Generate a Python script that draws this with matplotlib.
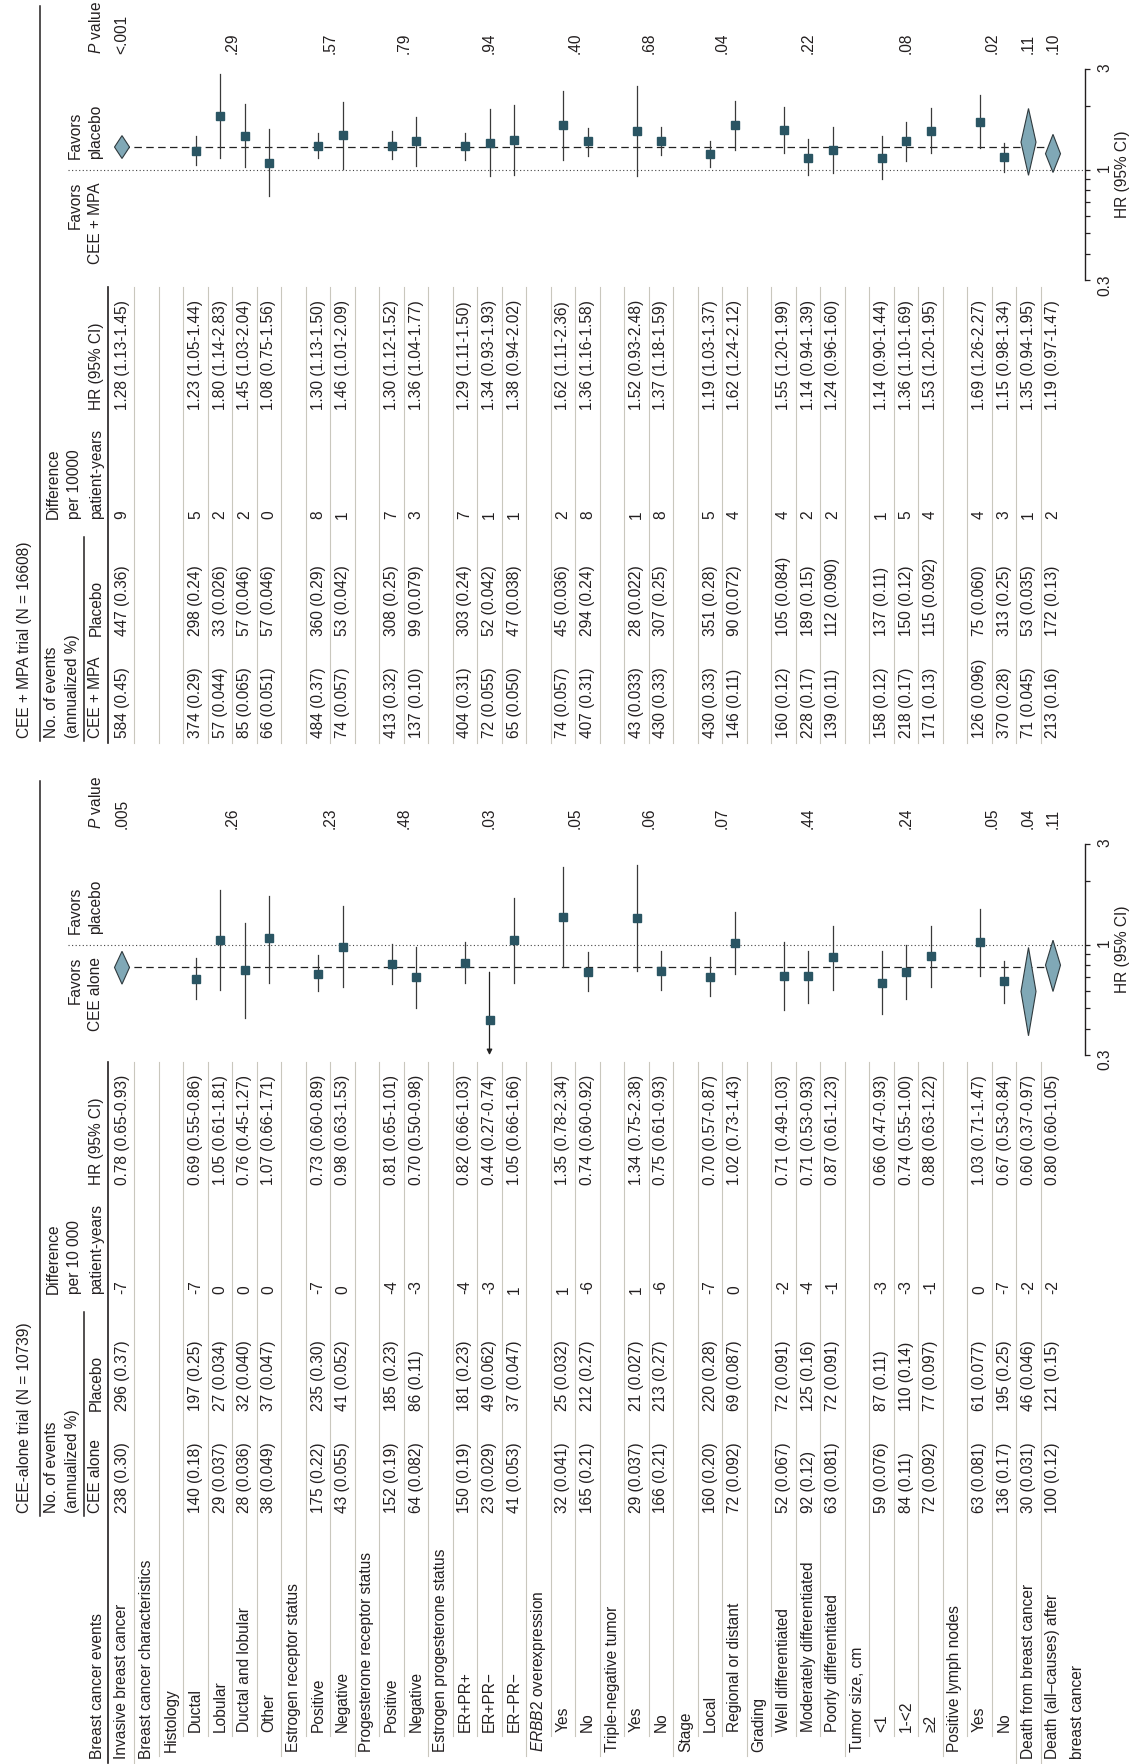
import matplotlib
matplotlib.use('Agg')
import matplotlib.pyplot as plt
from matplotlib import font_manager
from matplotlib.ticker import FixedLocator, NullFormatter

# ---------------- data ----------------
row_labels = [
	"Invasive breast cancer", "Breast cancer characteristics", "Histology",
	"Ductal", "Lobular", "Ductal and lobular", "Other",
	"Estrogen receptor status", "Positive", "Negative",
	"Progesterone receptor status", "Positive", "Negative",
	"Estrogen progesterone status", "ER+PR+", "ER+PR\u2212", "ER\u2212PR\u2212",
	"$\\mathit{ERBB2}$ overexpression", "Yes", "No",
	"Triple-negative tumor", "Yes", "No",
	"Stage", "Local", "Regional or distant",
	"Grading", "Well differentiated", "Moderately differentiated", "Poorly differentiated",
	"Tumor size, cm", "<1", "1-<2", "\u22652",
	"Positive lymph nodes", "Yes", "No",
	"Death from breast cancer", "Death (all\u2013causes) after\nbreast cancer",
]
row_levels = [0, 0, 1, 2, 2, 2, 2, 1, 2, 2, 1, 2, 2, 1, 2, 2, 2, 1, 2, 2,
			  1, 2, 2, 1, 2, 2, 1, 2, 2, 2, 1, 2, 2, 2, 1, 2, 2, 0, 0]

data_rows = [0, 3, 4, 5, 6, 8, 9, 11, 12, 14, 15, 16, 18, 19, 21, 22, 24, 25,
			 27, 28, 29, 31, 32, 33, 35, 36, 37, 38]
diamond_rows = [0, 37, 38]
p_groups = [(0, 0), (3, 6), (8, 9), (11, 12), (14, 16), (18, 19), (21, 22),
			(24, 25), (27, 29), (31, 33), (35, 36), (37, 37), (38, 38)]

# CEE-alone trial
cee_events = ["238 (0.30)", "140 (0.18)", "29 (0.037)", "28 (0.036)", "38 (0.049)",
			  "175 (0.22)", "43 (0.055)", "152 (0.19)", "64 (0.082)", "150 (0.19)",
			  "23 (0.029)", "41 (0.053)", "32 (0.041)", "165 (0.21)", "29 (0.037)",
			  "166 (0.21)", "160 (0.20)", "72 (0.092)", "52 (0.067)", "92 (0.12)",
			  "63 (0.081)", "59 (0.076)", "84 (0.11)", "72 (0.092)", "63 (0.081)",
			  "136 (0.17)", "30 (0.031)", "100 (0.12)"]
cee_placebo = ["296 (0.37)", "197 (0.25)", "27 (0.034)", "32 (0.040)", "37 (0.047)",
			   "235 (0.30)", "41 (0.052)", "185 (0.23)", "86 (0.11)", "181 (0.23)",
			   "49 (0.062)", "37 (0.047)", "25 (0.032)", "212 (0.27)", "21 (0.027)",
			   "213 (0.27)", "220 (0.28)", "69 (0.087)", "72 (0.091)", "125 (0.16)",
			   "72 (0.091)", "87 (0.11)", "110 (0.14)", "77 (0.097)", "61 (0.077)",
			   "195 (0.25)", "46 (0.046)", "121 (0.15)"]
cee_diff = [-7, -7, 0, 0, 0, -7, 0, -4, -3, -4, -3, 1, 1, -6, 1, -6, -7, 0,
			-2, -4, -1, -3, -3, -1, 0, -7, -2, -2]
cee_hr = [0.78, 0.69, 1.05, 0.76, 1.07, 0.73, 0.98, 0.81, 0.70, 0.82, 0.44, 1.05,
		  1.35, 0.74, 1.34, 0.75, 0.70, 1.02, 0.71, 0.71, 0.87, 0.66, 0.74, 0.88,
		  1.03, 0.67, 0.60, 0.80]
cee_lo = [0.65, 0.55, 0.61, 0.45, 0.66, 0.60, 0.63, 0.65, 0.50, 0.66, 0.27, 0.66,
		  0.78, 0.60, 0.75, 0.61, 0.57, 0.73, 0.49, 0.53, 0.61, 0.47, 0.55, 0.63,
		  0.71, 0.53, 0.37, 0.60]
cee_hi = [0.93, 0.86, 1.81, 1.27, 1.71, 0.89, 1.53, 1.01, 0.98, 1.03, 0.74, 1.66,
		  2.34, 0.92, 2.38, 0.93, 0.87, 1.43, 1.03, 0.93, 1.23, 0.93, 1.00, 1.22,
		  1.47, 0.84, 0.97, 1.05]
cee_p = [".005", ".26", ".23", ".48", ".03", ".05", ".06", ".07", ".44", ".24",
		 ".05", ".04", ".11"]

# CEE + MPA trial
mpa_events = ["584 (0.45)", "374 (0.29)", "57 (0.044)", "85 (0.065)", "66 (0.051)",
			  "484 (0.37)", "74 (0.057)", "413 (0.32)", "137 (0.10)", "404 (0.31)",
			  "72 (0.055)", "65 (0.050)", "74 (0.057)", "407 (0.31)", "43 (0.033)",
			  "430 (0.33)", "430 (0.33)", "146 (0.11)", "160 (0.12)", "228 (0.17)",
			  "139 (0.11)", "158 (0.12)", "218 (0.17)", "171 (0.13)", "126 (0.096)",
			  "370 (0.28)", "71 (0.045)", "213 (0.16)"]
mpa_placebo = ["447 (0.36)", "298 (0.24)", "33 (0.026)", "57 (0.046)", "57 (0.046)",
			   "360 (0.29)", "53 (0.042)", "308 (0.25)", "99 (0.079)", "303 (0.24)",
			   "52 (0.042)", "47 (0.038)", "45 (0.036)", "294 (0.24)", "28 (0.022)",
			   "307 (0.25)", "351 (0.28)", "90 (0.072)", "105 (0.084)", "189 (0.15)",
			   "112 (0.090)", "137 (0.11)", "150 (0.12)", "115 (0.092)", "75 (0.060)",
			   "313 (0.25)", "53 (0.035)", "172 (0.13)"]
mpa_diff = [9, 5, 2, 2, 0, 8, 1, 7, 3, 7, 1, 1, 2, 8, 1, 8, 5, 4, 4, 2, 2, 1, 5, 4,
			4, 3, 1, 2]
mpa_hr = [1.28, 1.23, 1.80, 1.45, 1.08, 1.30, 1.46, 1.30, 1.36, 1.29, 1.34, 1.38,
		  1.62, 1.36, 1.52, 1.37, 1.19, 1.62, 1.55, 1.14, 1.24, 1.14, 1.36, 1.53,
		  1.69, 1.15, 1.35, 1.19]
mpa_lo = [1.13, 1.05, 1.14, 1.03, 0.75, 1.13, 1.01, 1.12, 1.04, 1.11, 0.93, 0.94,
		  1.11, 1.16, 0.93, 1.18, 1.03, 1.24, 1.20, 0.94, 0.96, 0.90, 1.10, 1.20,
		  1.26, 0.98, 0.94, 0.97]
mpa_hi = [1.45, 1.44, 2.83, 2.04, 1.56, 1.50, 2.09, 1.52, 1.77, 1.50, 1.93, 2.02,
		  2.36, 1.58, 2.48, 1.59, 1.37, 2.12, 1.99, 1.39, 1.60, 1.44, 1.69, 1.95,
		  2.27, 1.34, 1.95, 1.47]
mpa_p = ["<.001", ".29", ".57", ".79", ".94", ".40", ".68", ".04", ".22", ".08",
		 ".02", ".11", ".10"]

# ---------------- style / layout ----------------
W, H = 1140, 1764
ROW0, PITCH = 122, 24.5
FS = 11.2
TXT = '#231f20'
SQ = '#2a5563'
DIA = '#80a8b6'
GRID = '#c9c7bd'

names = {f.name for f in font_manager.fontManager.ttflist}
FONT = 'Liberation Sans' if 'Liberation Sans' in names else 'DejaVu Sans'
plt.rcParams['font.family'] = [FONT, 'DejaVu Sans']
plt.rcParams['mathtext.fontset'] = 'custom'
plt.rcParams['mathtext.rm'] = FONT
plt.rcParams['mathtext.it'] = FONT + ':italic'


def rx(i):
	return ROW0 + PITCH * i


def vtext(ax, x, y, s, ha='left', **kw):
	ax.text(x, y, s, rotation=90, rotation_mode='anchor', ha=ha, va='center',
			fontsize=FS, color=TXT, **kw)


fig = plt.figure(figsize=(W / 100, H / 100), dpi=100)
tab = fig.add_axes([0, 0, 1, 1])
tab.set_xlim(0, W)
tab.set_ylim(H, 0)
tab.axis('off')

label_y = {0: 1759, 1: 1752, 2: 1732}
line_end = {0: 1763, 1: 1756, 2: 1736}

# row labels
vtext(tab, 97, label_y[0], "Breast cancer events")
for i, (lab, lev) in enumerate(zip(row_labels, row_levels)):
	for j, part in enumerate(lab.split('\n')):
		vtext(tab, rx(i) + j * PITCH, label_y[lev], part)


def panel(off, title, trt, per, events, placebo, diff, hr, lo, hi, pvals, fav_trt, full_rows):
	c_evt, c_plac, c_diff, c_hr, c_p = 1513 - off, 1411 - off, 1294 - off, 1185 - off, 829 - off

	# headers
	vtext(tab, 25, c_evt, title)
	vtext(tab, 52, c_evt, "No. of events")
	vtext(tab, 73, c_evt, "(annualized %)")
	vtext(tab, 96, c_evt, trt)
	vtext(tab, 96, c_plac, "Placebo")
	vtext(tab, 53, c_diff, "Difference")
	vtext(tab, 75, c_diff, per)
	vtext(tab, 97, c_diff, "patient-years")
	vtext(tab, 97, c_hr, "HR (95% CI)")
	vtext(tab, 96, c_p, "$\\mathit{P}$ value")
	vtext(tab, 75, 957 - off, "Favors", ha='right')
	vtext(tab, 96, 957 - off, fav_trt, ha='right')
	vtext(tab, 75, 934 - off, "Favors")
	vtext(tab, 96, 934 - off, "placebo")

	# rules
	tab.plot([40, 40], [781 - off, 1516 - off], color=TXT, lw=1.1)
	tab.plot([84, 84], [1312 - off, 1516 - off], color=TXT, lw=1.1)
	hdr_end = 1763 if full_rows else 1518 - off
	tab.plot([108, 108], [1062 - off, hdr_end], color=TXT, lw=1.2)
	for i in range(len(row_labels) - 1):
		x = (rx(i) + rx(i + 1)) / 2
		y_end = line_end[row_levels[i + 1]] if full_rows else 1518 - off
		tab.plot([x, x], [1062 - off, y_end], color=GRID, lw=0.8, zorder=0)

	# table values
	for k, r in enumerate(data_rows):
		vtext(tab, rx(r), c_evt, events[k])
		vtext(tab, rx(r), c_plac, placebo[k])
		vtext(tab, rx(r), c_diff, "%d" % diff[k])
		vtext(tab, rx(r), c_hr, "%.2f (%.2f-%.2f)" % (hr[k], lo[k], hi[k]))
	for (a, b), p in zip(p_groups, pvals):
		vtext(tab, (rx(a) + rx(b)) / 2, c_p, p)

	# forest plot, HR on the vertical log axis
	y_lo, y_hi = 1055 - off, 844 - off
	ax = fig.add_axes([0, 1 - y_lo / H, 1085 / W, (y_lo - y_hi) / H])
	ax.set_yscale('log')
	ax.set_ylim(0.3, 3)
	ax.set_xlim((0 - ROW0) / PITCH, (1085 - ROW0) / PITCH)
	ax.patch.set_visible(False)
	for s in ['left', 'top', 'bottom']:
		ax.spines[s].set_visible(False)
	ax.spines['right'].set_linewidth(1.0)
	ax.spines['right'].set_color(TXT)
	ax.set_xticks([])
	ax.yaxis.tick_right()
	ax.yaxis.set_label_position('right')
	ax.yaxis.set_major_locator(FixedLocator([0.3, 1, 3]))
	ax.set_yticklabels(['0.3', '1', '3'], rotation=90, fontsize=FS, color=TXT)
	ax.yaxis.set_minor_locator(FixedLocator([0.4, 0.5, 0.6, 0.7, 0.8, 0.9, 2]))
	ax.yaxis.set_minor_formatter(NullFormatter())
	ax.tick_params(axis='y', which='both', direction='out', length=3.8, width=0.9,
				   pad=5, colors=TXT)
	ax.set_ylabel('HR (95% CI)', fontsize=FS, color=TXT, labelpad=2)

	ax.axhline(1, xmin=68 / 1085, xmax=1, color='#444444', lw=0.8,
			   ls=(0, (1, 2.2)), zorder=1)
	ax.plot([data_rows[0], data_rows[-1]], [hr[0], hr[0]], color='#222222', lw=0.9,
			ls=(0, (6, 3.5)), zorder=2)

	w = 7.5 / PITCH
	for k, r in enumerate(data_rows):
		if r in diamond_rows:
			ax.fill([r, r + w, r, r - w], [lo[k], hr[k], hi[k], hr[k]], facecolor=DIA,
					edgecolor='#2f3a3e', lw=0.8, zorder=4)
			continue
		if lo[k] < 0.3:
			ax.annotate('', xy=(r, 0.3), xytext=(r, hi[k]),
						arrowprops=dict(arrowstyle='-|>', color='#222222', lw=0.9,
										mutation_scale=8, shrinkA=0, shrinkB=0))
		else:
			ax.plot([r, r], [lo[k], hi[k]], color='#3a3a3a', lw=0.9, zorder=3)
		ax.plot(r, hr[k], marker='s', ms=5.8, color=SQ, mec=SQ, zorder=4)


panel(0, "CEE-alone trial (N = 10739)", "CEE alone", "per 10 000",
	  cee_events, cee_placebo, cee_diff, cee_hr, cee_lo, cee_hi, cee_p,
	  "CEE alone", True)
panel(775, "CEE + MPA trial (N = 16608)", "CEE + MPA", "per 10000",
	  mpa_events, mpa_placebo, mpa_diff, mpa_hr, mpa_lo, mpa_hi, mpa_p,
	  "CEE + MPA", False)

fig.savefig('out.png', dpi=100)
